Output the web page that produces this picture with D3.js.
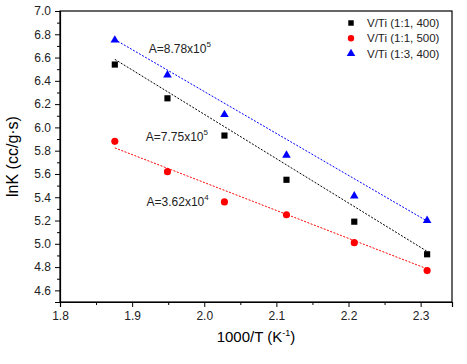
<!DOCTYPE html>
<html>
<head>
<meta charset="utf-8">
<script src="https://cdn.jsdelivr.net/npm/d3@7"></script>
<style>
    body { margin: 0; background: white; }
    svg { font-family: "Liberation Sans", Arial, sans-serif; }
</style>
</head>
<body>
<div id="chart"></div>
<script>
// data
const invT = [1.876, 1.949, 2.028, 2.114, 2.208, 2.309];
const lnK_11_400 = [6.54, 6.25, 5.93, 5.55, 5.19, 4.91];
const lnK_11_500 = [5.88, 5.62, 5.36, 5.25, 5.01, 4.77];
const lnK_13_400 = [6.75, 6.45, 6.11, 5.76, 5.41, 5.20];
// ends of the fitted lines (at first and last x)
const fitStart = [6.585, 5.824, 6.755];
const fitEnd = [4.935, 4.785, 5.195];
const seriesNames = ["V/Ti (1:1, 400)", "V/Ti (1:1, 500)", "V/Ti (1:3, 400)"];
const seriesColors = ["black", "red", "blue"];
const seriesShapes = [d3.symbolSquare, d3.symbolCircle, d3.symbolTriangle];
const annoTexts = [["A=7.75x10", "5"], ["A=3.62x10", "4"], ["A=8.78x10", "5"]];
const annoPos = [[1.919, 5.886], [1.92, 5.325], [1.923, 6.635]];
const xTicks = [1.8, 1.9, 2.0, 2.1, 2.2, 2.3];
const yTicks = [4.6, 4.8, 5.0, 5.2, 5.4, 5.6, 5.8, 6.0, 6.2, 6.4, 6.6, 6.8, 7.0];

const allSeries = [lnK_11_400, lnK_11_500, lnK_13_400];

const width = 467, height = 364;
const svg = d3.select("#chart").append("svg")
    .attr("width", width)
    .attr("height", height);

const plotLeft = 60, plotRight = 452, plotTop = 11, plotBottom = 302;

const xScale = d3.scaleLinear().domain([1.8, 2.3435]).range([plotLeft, plotRight]);
const yScale = d3.scaleLinear().domain([4.5, 7.0]).range([plotBottom, plotTop]);

// frame
svg.append("rect")
    .attr("x", plotLeft).attr("y", plotTop)
    .attr("width", plotRight - plotLeft).attr("height", plotBottom - plotTop)
    .attr("fill", "none").attr("stroke", "black").attr("stroke-width", 1.2);

// x axis
const xAxis = d3.axisBottom(xScale)
    .tickValues(xTicks)
    .tickFormat(d3.format(".1f"))
    .tickSize(5).tickPadding(4);
svg.append("g").attr("transform", `translate(0,${plotBottom})`).call(xAxis);
// minor x ticks
svg.append("g").attr("transform", `translate(0,${plotBottom})`)
    .call(d3.axisBottom(xScale).tickValues([1.85, 1.95, 2.05, 2.15, 2.25]).tickSize(3).tickFormat(""))
    .select(".domain").remove();

// y axis
const yAxis = d3.axisLeft(yScale)
    .tickValues(yTicks)
    .tickFormat(d3.format(".1f"))
    .tickSize(5).tickPadding(4);
svg.append("g").attr("transform", `translate(${plotLeft},0)`).call(yAxis);
svg.append("g").attr("transform", `translate(${plotLeft},0)`)
    .call(d3.axisLeft(yScale).tickValues(d3.range(4.5, 7.0, 0.2)).tickSize(3).tickFormat(""))
    .select(".domain").remove();

svg.selectAll(".tick text").attr("font-size", 12).attr("fill", "#222");
svg.selectAll(".domain").attr("stroke-width", 1.2);

// axis titles
svg.append("text")
    .attr("x", (plotLeft + plotRight) / 2).attr("y", 342)
    .attr("text-anchor", "middle")
    .attr("font-size", 15)
    .html('1000/T (K<tspan dy="-6" font-size="9">-1</tspan><tspan dy="6">)</tspan>');

svg.append("text")
    .attr("transform", `translate(18,${(plotTop + plotBottom) / 2}) rotate(-90)`)
    .attr("text-anchor", "middle")
    .attr("font-size", 16)
    .text("lnK (cc/g·s)");

// fitted lines
allSeries.forEach(function (ys, s) {
    svg.append("line")
        .attr("x1", xScale(invT[0])).attr("y1", yScale(fitStart[s]))
        .attr("x2", xScale(invT[invT.length - 1])).attr("y2", yScale(fitEnd[s]))
        .attr("stroke", seriesColors[s])
        .attr("stroke-width", 1)
        .attr("stroke-dasharray", "2,1.5");
});

// points
const markerSize = [38, 40, 32];
allSeries.forEach(function (ys, s) {
    svg.selectAll(null)
        .data(ys)
        .enter()
        .append("path")
        .attr("d", d3.symbol().type(seriesShapes[s]).size(markerSize[s]))
        .attr("transform", (d, i) => `translate(${xScale(invT[i])},${yScale(d)})`)
        .attr("fill", seriesColors[s]);
});

// annotations
annoTexts.forEach(function (t, i) {
    svg.append("text")
        .attr("x", xScale(annoPos[i][0]))
        .attr("y", yScale(annoPos[i][1]))
        .attr("font-size", 12)
        .attr("fill", "#222")
        .html(`${t[0]}<tspan dy="-6" font-size="8">${t[1]}</tspan>`);
});

// legend
const legend = svg.append("g");
seriesNames.forEach(function (name, i) {
    const ly = 23 + i * 15.3;
    legend.append("path")
        .attr("d", d3.symbol().type(seriesShapes[i]).size(i == 0 ? 30 : 32))
        .attr("transform", `translate(351,${ly})`)
        .attr("fill", seriesColors[i]);
    legend.append("text")
        .attr("x", 367).attr("y", ly + 4)
        .attr("font-size", 11.5)
        .attr("fill", "#222")
        .text(name);
});
</script>
</body>
</html>
